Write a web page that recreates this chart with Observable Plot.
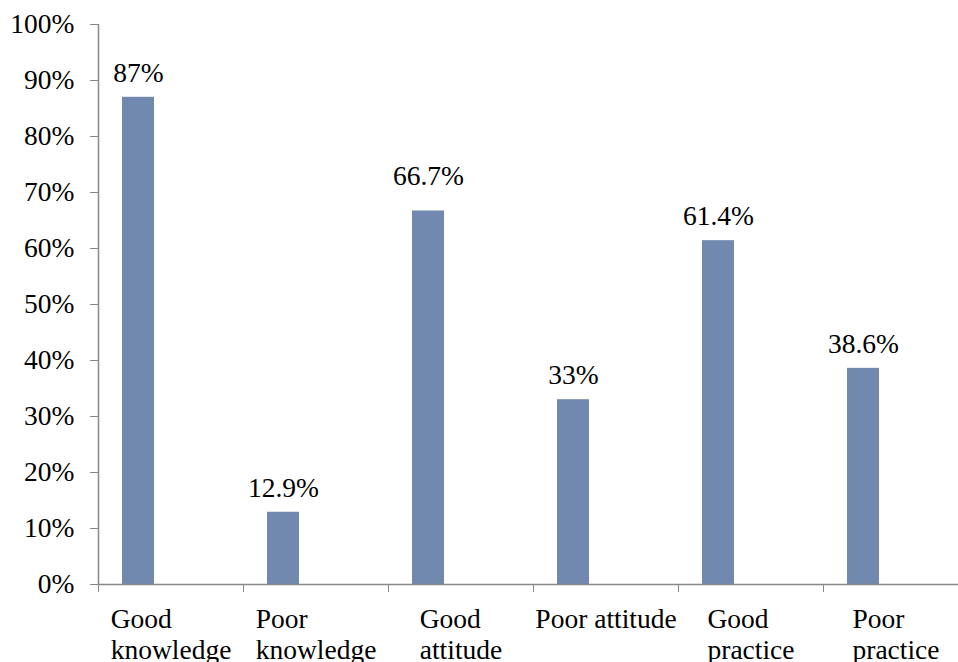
<!DOCTYPE html>
<html>
<head>
<meta charset="utf-8">
<script src="https://cdn.jsdelivr.net/npm/d3@7"></script>
<script src="https://cdn.jsdelivr.net/npm/@observablehq/plot@0.6"></script>
<style>
  html, body { margin: 0; padding: 0; background: #fff; }
  #chart { width: 958px; height: 662px; overflow: hidden; }
  #chart svg, #chart svg text { font-family: "Liberation Serif", "Tinos", "DejaVu Serif", serif !important; }
</style>
</head>
<body>
<div id="chart"></div>
<script>
const categories = ["Good knowledge", "Poor knowledge", "Good attitude", "Poor attitude", "Good practice", "Poor practice"];
const values = [0.87, 0.129, 0.667, 0.33, 0.614, 0.386];
const valueLabels = ["87%", "12.9%", "66.7%", "33%", "61.4%", "38.6%"];
const axisLabels = ["Good\nknowledge", "Poor\nknowledge", "Good\nattitude", "Poor attitude", "Good\npractice", "Poor\npractice"];
const yTicks = [0, 0.1, 0.2, 0.3, 0.4, 0.5, 0.6, 0.7, 0.8, 0.9, 1.0];
const yTickLabels = ["0%", "10%", "20%", "30%", "40%", "50%", "60%", "70%", "80%", "90%", "100%"];

const data = categories.map((c, i) => ({category: c, value: values[i], label: valueLabels[i], axisLabel: axisLabels[i]}));

const FONT = '"Liberation Serif", "Tinos", "DejaVu Serif", serif';
const FS = 27.5;
const W = 958, H = 662;
const mL = 98, mR = -10, mT = 24, mB = 78;
const bandW = (W - mL - mR) / categories.length;
const barOffset = 24, barW = 32;
const barCenterShift = barOffset + barW / 2 - bandW / 2;

const ctx = document.createElement("canvas").getContext("2d");
ctx.font = `${FS}px ${FONT}`;
const blockWidth = s => Math.max(...s.split("\n").map(l => ctx.measureText(l).width));

const labelMarks = data.map(d => Plot.text([d], {
  x: "category", y: () => 0, text: "axisLabel",
  textAnchor: "start", lineAnchor: "top", lineHeight: 1.13,
  dx: -blockWidth(d.axisLabel) / 2, dy: 21, fill: "#000", fontFamily: FONT
}));

// Excel placed the "66.7%" label a little higher than the others
const raised = d => d.label === "66.7%";

const chart = Plot.plot({
  width: W, height: H,
  marginLeft: mL, marginRight: mR, marginTop: mT, marginBottom: mB,
  style: {fontFamily: FONT, fontSize: FS + "px", color: "#000", background: "#fff"},
  x: {domain: categories, padding: 0, axis: null, label: null},
  y: {domain: [0, 1], axis: null, label: null},
  marks: [
    Plot.barY(data, {x: "category", y: "value", fill: "#7189AF", insetLeft: barOffset, insetRight: bandW - barOffset - barW}),
    Plot.text(data, {filter: d => !raised(d), x: "category", y: "value", text: "label", lineAnchor: "bottom", dy: -15.5, dx: barCenterShift, fill: "#000", fontFamily: FONT}),
    Plot.text(data, {filter: raised, x: "category", y: "value", text: "label", lineAnchor: "bottom", dy: -26, dx: barCenterShift, fill: "#000", fontFamily: FONT}),
    Plot.axisY({ticks: yTicks, tickSize: 8, tickPadding: 16, tickFormat: (d, i) => yTickLabels[i], stroke: "#888", fill: "#000", fontSize: FS, fontFamily: FONT, label: null}),
    Plot.axisX({tickSize: 8, tickFormat: () => "", stroke: "#888", dx: -bandW / 2, label: null}),
    Plot.ruleX([categories[0]], {dx: -bandW / 2, stroke: "#888", strokeWidth: 1.5}),
    Plot.ruleY([0], {stroke: "#888", strokeWidth: 1.5}),
    ...labelMarks
  ]
});
document.getElementById("chart").appendChild(chart);
</script>
</body>
</html>
